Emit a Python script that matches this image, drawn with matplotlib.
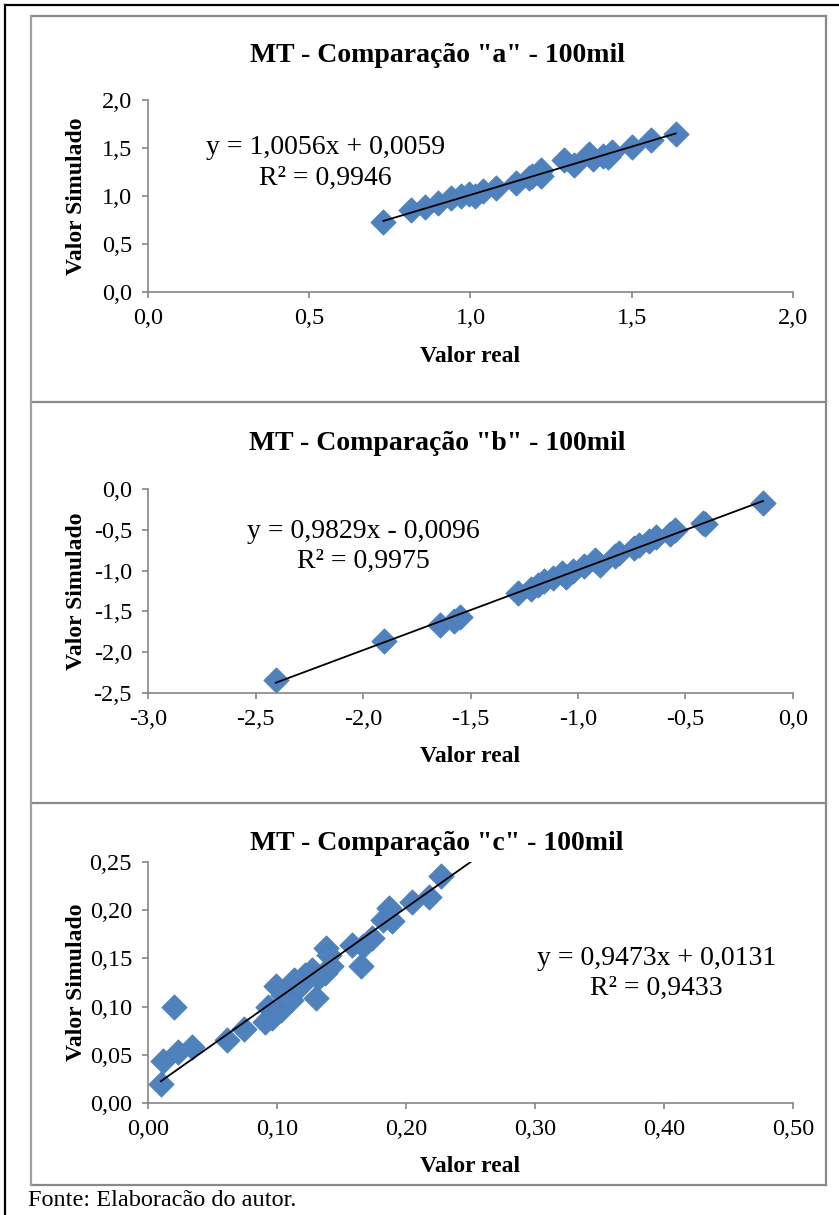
import numpy as np
import matplotlib.pyplot as plt
from matplotlib.lines import Line2D
from matplotlib.ticker import MultipleLocator, FuncFormatter

plt.rcParams['font.family'] = ['Liberation Serif', 'DejaVu Serif']

# painel a
a_real = [0.73, 0.817, 0.86, 0.90, 0.94, 0.97, 0.995, 1.015, 1.04, 1.08, 1.14, 1.18, 1.19,
          1.22, 1.22, 1.29, 1.32, 1.366, 1.38, 1.41, 1.427, 1.44, 1.50, 1.56, 1.636]
a_sim = [0.734, 0.857, 0.89, 0.93, 0.975, 0.997, 1.02, 1.0, 1.056, 1.08, 1.14, 1.185, 1.206,
         1.27, 1.21, 1.37, 1.32, 1.44, 1.39, 1.42, 1.41, 1.46, 1.51, 1.58, 1.65]
a_fit = (1.0056, 0.0059, 0.9946)

# painel b
b_real = [-2.406, -1.902, -1.642, -1.577, -1.55, -1.28, -1.218, -1.188, -1.157, -1.116, -1.075,
          -1.055, -1.025, -0.974, -0.92, -0.90, -0.83, -0.81, -0.738, -0.718, -0.67, -0.636,
          -0.574, -0.55, -0.42, -0.41, -0.14]
b_sim = [-2.337, -1.867, -1.671, -1.614, -1.569, -1.275, -1.225, -1.172, -1.13, -1.09, -1.03,
         -1.08, -1.01, -0.94, -0.866, -0.93, -0.825, -0.79, -0.723, -0.682, -0.64, -0.588,
         -0.547, -0.507, -0.417, -0.43, -0.17]
b_fit = (0.9829, -0.0096, 0.9975)

# painel c
c_real = [0.010, 0.0114, 0.020, 0.0235, 0.034, 0.061, 0.0745, 0.091, 0.093, 0.096, 0.098, 0.099,
          0.103, 0.105, 0.111, 0.113, 0.118, 0.122, 0.127, 0.130, 0.132, 0.137, 0.138, 0.140,
          0.142, 0.158, 0.165, 0.167, 0.174, 0.182, 0.187, 0.189, 0.205, 0.218, 0.227]
c_sim = [0.020, 0.044, 0.100, 0.053, 0.058, 0.065, 0.077, 0.084, 0.100, 0.088, 0.093, 0.121,
         0.0965, 0.112, 0.107, 0.128, 0.121, 0.133, 0.138, 0.109, 0.130, 0.135, 0.161, 0.154,
         0.142, 0.164, 0.142, 0.163, 0.171, 0.190, 0.202, 0.189, 0.208, 0.214, 0.235]
c_fit = (0.9473, 0.0131, 0.9433)

W, H = 839, 1215
fig = plt.figure(figsize=(W/100, H/100), dpi=100)

def fx(x):
    return x / W

def fy(y):
    return 1 - y / H

def virgula(casas):
    return FuncFormatter(lambda v, p: f"{v:.{casas}f}".replace('.', ','))

def eq_text(fit):
    m, b, r2 = fit
    sinal = '+' if b >= 0 else '-'
    s1 = f"y = {m:.4f}x {sinal} {abs(b):.4f}".replace('.', ',')
    s2 = f"R² = {r2:.4f}".replace('.', ',')
    return s1, s2

azul = '#4F81BD'
borda = '#4A7EBB'
cinza = '#868686'

paineis = [
    # x, y, fit, titulo, eixo px (top, bottom), limites, passo, casas, texto (x, y1, y2), linha ate
    (a_real, a_sim, a_fit, 'MT - Comparação "a" - 100mil', (100, 292), (0, 2), (0, 2), (0.5, 0.5), 1,
     (0.55, 1.50, 1.18), None, 55, 356),
    (b_real, b_sim, b_fit, 'MT - Comparação "b" - 100mil', (489, 693), (-3, 0), (-2.5, 0), (0.5, 0.5), 1,
     (-2.0, -0.52, -0.89), None, 443, 757),
    (c_real, c_sim, c_fit, 'MT - Comparação "c" - 100mil', (862, 1103), (0, 0.5), (0, 0.25), (0.1, 0.05), 2,
     (0.394, 0.150, 0.119), 0.3, 843, 1166),
]

for xr, ys, fit, titulo, (top, bot), xl, yl, passo, casas, txt, xfim, ytit, yxl in paineis:
    ax = fig.add_axes([fx(148), fy(bot), 645 / W, (bot - top) / H])
    ax.scatter(xr, ys, marker='D', s=165, color=azul, edgecolors=borda, linewidths=0.6, zorder=2)
    m, b, r2 = fit
    x0 = min(xr)
    x1 = max(xr) if xfim is None else xfim
    xx = np.array([x0, x1])
    ax.plot(xx, m * xx + b, color='black', lw=1.3, zorder=3)
    ax.set_xlim(*xl)
    ax.set_ylim(*yl)
    ax.xaxis.set_major_locator(MultipleLocator(passo[0]))
    ax.yaxis.set_major_locator(MultipleLocator(passo[1]))
    ax.xaxis.set_major_formatter(virgula(casas))
    ax.yaxis.set_major_formatter(virgula(casas))
    for s in ['top', 'right']:
        ax.spines[s].set_visible(False)
    for s in ['left', 'bottom']:
        ax.spines[s].set_color(cinza)
        ax.spines[s].set_linewidth(1.2)
    ax.tick_params(direction='out', length=4.5, width=1.2, color=cinza, labelsize=17.5, pad=7)
    s1, s2 = eq_text(fit)
    ax.text(txt[0], txt[1], s1, ha='center', va='center', fontsize=20)
    ax.text(txt[0], txt[2], s2, ha='center', va='center', fontsize=20)
    fig.text(fx(437), fy(ytit), titulo, ha='center', va='center', fontsize=20, fontweight='bold')
    fig.text(fx(470), fy(yxl), 'Valor real', ha='center', va='center', fontsize=17, fontweight='bold')
    fig.text(fx(77), fy((top + bot) / 2), 'Valor Simulado', ha='center', va='center',
             rotation=90, fontsize=17, fontweight='bold')

# molduras
def linha(xs, ys, cor, lw):
    fig.add_artist(Line2D([fx(v) for v in xs], [fy(v) for v in ys], color=cor, lw=lw))

for yy in [16, 402, 803, 1185]:
    linha([31, 826], [yy, yy], '#898989', 1.6)
linha([31, 31], [16, 1185], '#A0A0A0', 1.6)
linha([826, 826], [16, 1185], '#898989', 1.6)
linha([5, 5], [5, 1215], 'black', 1.6)
linha([5, 839], [5, 5], 'black', 1.6)

fig.text(fx(28), fy(1201), 'Fonte: Elaboracão do autor.', ha='left', va='center', fontsize=17.5)

fig.savefig('out.png', dpi=100)
